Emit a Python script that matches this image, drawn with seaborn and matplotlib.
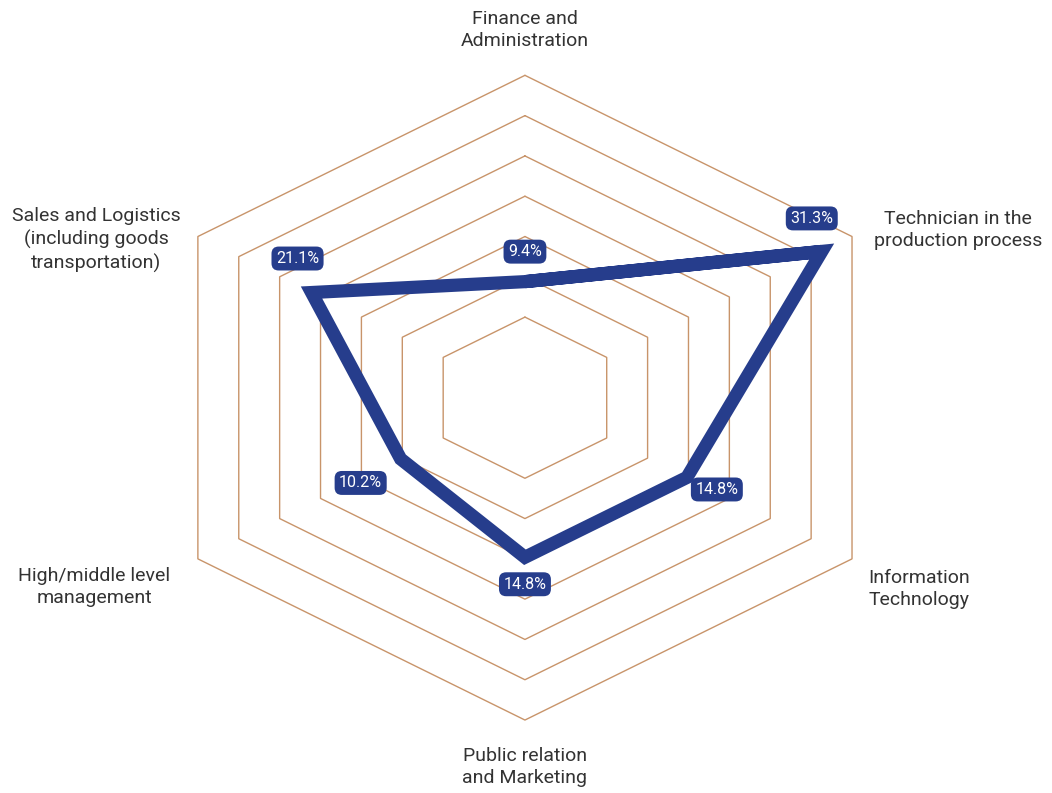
import numpy as np
import pandas as pd
import matplotlib
matplotlib.use("Agg")
import matplotlib.pyplot as plt
import seaborn as sns

categories = ["Finance and\nAdministration",
              "Technician in the\nproduction process",
              "Information\nTechnology",
              "Public relation\nand Marketing",
              "High/middle level\nmanagement",
              "Sales and Logistics\n(including goods\ntransportation)"]
values = [9.4, 31.3, 14.8, 14.8, 10.2, 21.1]
value_labels = ["9.4%", "31.3%", "14.8%", "14.8%", "10.2%", "21.1%"]
ring_levels = [5, 10, 15, 20, 25, 30, 35]

BLUE = "#263d8c"
TAN = "#c8946a"
TXT = "#333333"

sns.set_theme(style="white")
plt.rcParams["font.family"] = ["Roboto", "DejaVu Sans"]

fig = plt.figure(figsize=(10.52, 7.93), dpi=100)
ax = fig.add_axes([0.140, 0.092, 0.718, 0.813], projection="polar")
ax.set_aspect("auto")
ax.set_theta_offset(np.pi / 2)
ax.set_theta_direction(-1)
ax.set_ylim(-5, 35)

n = len(categories)
thetas = np.arange(n) * 2 * np.pi / n
closed_t = np.append(thetas, thetas[0])

# hexagonal rings
for lvl in ring_levels:
    ax.plot(closed_t, [lvl] * (n + 1), color=TAN, lw=1.0, zorder=1, clip_on=False)

# closed polygon (repeat the first two points, shifted by 2*pi, so every corner is mitred)
loop_t = np.concatenate([thetas, thetas[:2] + 2 * np.pi])
loop_v = values + values[:2]
df = pd.DataFrame({"theta": loop_t, "value": loop_v})
sns.lineplot(data=df, x="theta", y="value", sort=False, estimator=None, ax=ax, color=BLUE,
             linewidth=9.5, solid_joinstyle="miter", solid_capstyle="butt",
             zorder=3, clip_on=False)

ax.grid(False)
ax.spines["polar"].set_visible(False)
ax.set_xticks([])
ax.set_yticks([])
ax.set_xlabel("")
ax.set_ylabel("")
ax.patch.set_alpha(0)

# value labels
offsets_px = [(0, 30), (-10, 33), (30, -12), (0, -27), (-40, -24), (-14, 34)]
for t, v, lab, (ox, oy) in zip(thetas, values, value_labels, offsets_px):
    ax.annotate(lab, xy=(t, v), xytext=(ox * 0.72, oy * 0.72), textcoords="offset points",
                ha="center", va="center", color="white", fontsize=11.5, zorder=5,
                bbox=dict(boxstyle="round,pad=0.28,rounding_size=0.45", fc=BLUE, ec="none"))

# category labels (pixel centres)
label_pos = [(525, 30), (958, 230), (919, 589), (525, 767), (94, 587), (96, 240)]
W, H = 1052, 793
for lab, (px, py) in zip(categories, label_pos):
    fig.text(px / W, 1 - py / H, lab, ha="center", va="center", fontsize=14,
             color=TXT, linespacing=1.3)

fig.savefig("out.png", dpi=100)
